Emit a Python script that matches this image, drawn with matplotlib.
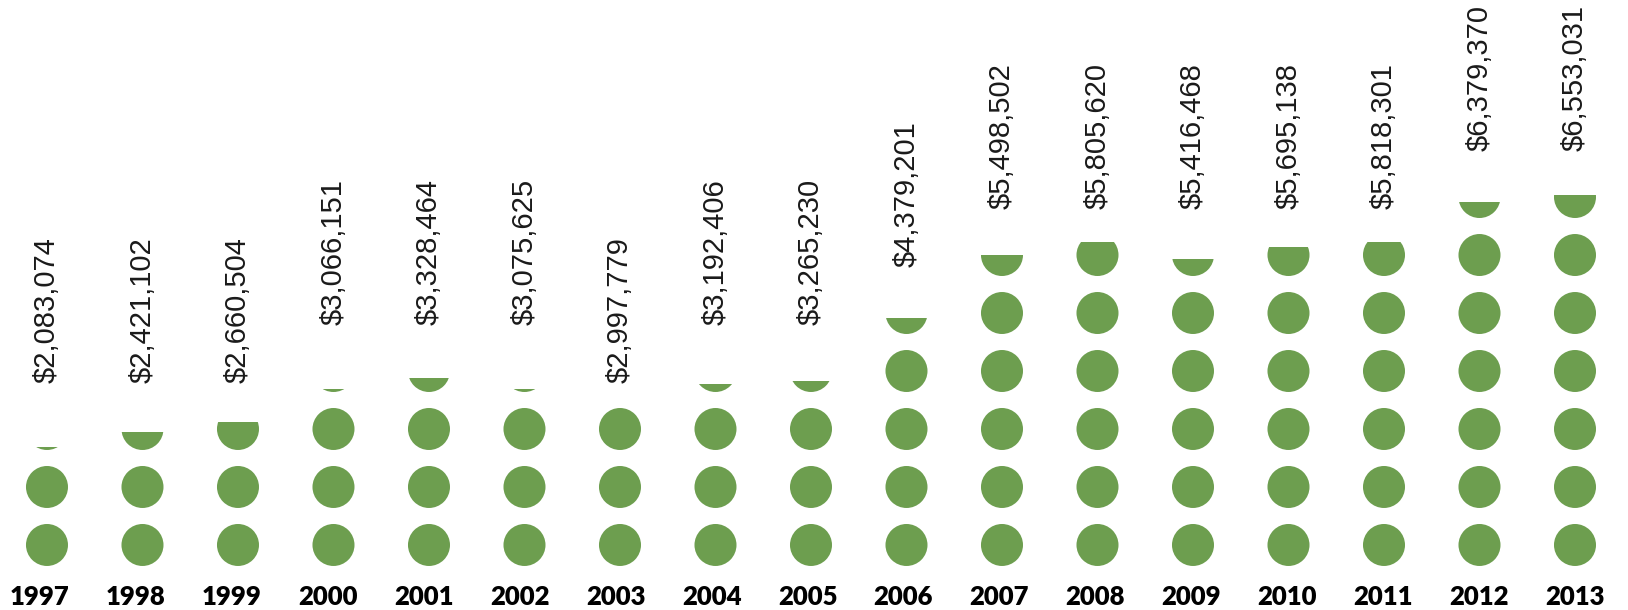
import numpy as np
import matplotlib
matplotlib.use("Agg")
import matplotlib.pyplot as plt
from matplotlib.patches import Ellipse, Rectangle

# Spending per year, each dot = $1,000,000
years = ['1997', '1998', '1999', '2000', '2001', '2002', '2003', '2004', '2005',
         '2006', '2007', '2008', '2009', '2010', '2011', '2012', '2013']
amounts = [2083074, 2421102, 2660504, 3066151, 3328464, 3075625, 2997779, 3192406,
           3265230, 4379201, 5498502, 5805620, 5416468, 5695138, 5818301, 6379370,
           6553031]
unit = 1000000

green = '#6d9e4f'

fig = plt.figure(figsize=(16.28, 6.10), dpi=100)
ax = fig.add_axes([0, 0, 1, 1])
ax.set_xlim(-0.492, 16.555)
ax.set_ylim(-1.121, 9.397)
ax.axis('off')

# circle size in data units (x and y scales differ)
w = 0.44
h = 0.724
gap = 0.43

# year labels sit on a slightly wider spread than the dots
year_x = np.linspace(-0.073, len(years) - 1, len(years))

for i, (yr, amt) in enumerate(zip(years, amounts)):
    v = amt / unit
    full = int(v)
    frac = v - full
    for k in range(full):
        ax.add_patch(Ellipse((i, k), w, h, color=green, lw=0))
    n = full
    if frac > 0:
        e = Ellipse((i, full), w, h, color=green, lw=0)
        ax.add_patch(e)
        clip = Rectangle((i - w, full - h / 2), 2 * w, frac * h,
                         transform=ax.transData, fc='none', ec='none')
        e.set_clip_path(clip)
        n = full + 1
    # value label above the top slot
    top = (n - 1) + h / 2 + gap
    ax.text(i, top, '${:,}'.format(amt), rotation=90, ha='center', va='bottom',
            fontsize=21, family=['Liberation Sans', 'DejaVu Sans'],
            color='#1a1a1a')
    ax.text(year_x[i], -1.035, yr, ha='center', va='baseline', fontsize=18.5,
            family=['Lato', 'DejaVu Sans'], weight='heavy', color='black')

fig.savefig('out.png', dpi=100)
